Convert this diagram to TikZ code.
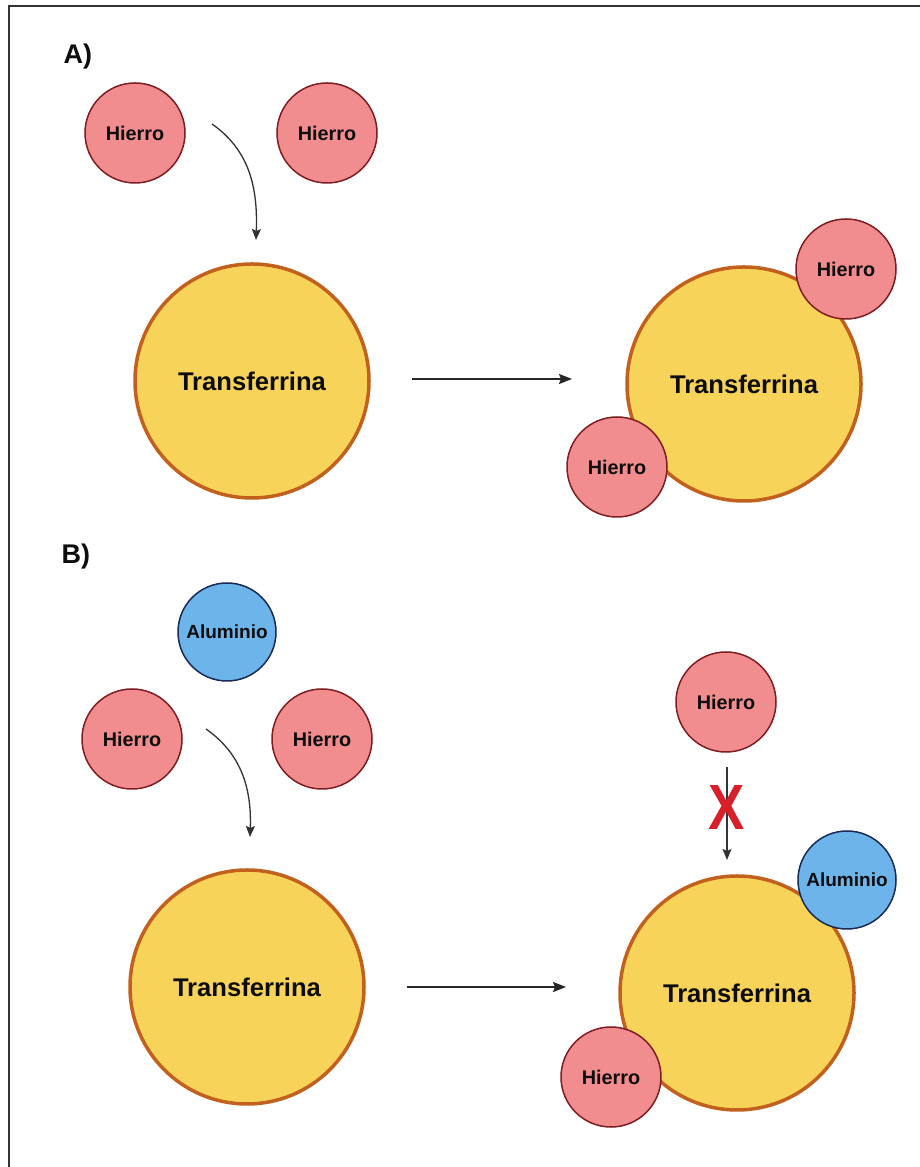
\documentclass[tikz,border=0pt]{standalone}
\definecolor{tfyellow}{HTML}{F8D35A}
\definecolor{tfborder}{HTML}{C2611D}
\definecolor{fered}{HTML}{F28D8F}
\definecolor{feborder}{HTML}{7E1D22}
\definecolor{alblue}{HTML}{6DB4EA}
\definecolor{alborder}{HTML}{182B55}
\definecolor{xred}{HTML}{D81F2A}
\usepackage{fontspec}
\setmainfont{Liberation Sans}
\usepackage{tikz}
\usetikzlibrary{arrows.meta, positioning}

\begin{document}
\begin{tikzpicture}[x=1pt, y=1pt,
    txt/.style={text=black!95},
    hierro/.style={circle, draw=feborder, fill=fered, line width=1.5pt,
      minimum size=100pt, inner sep=0pt, txt,
      font=\bfseries\fontsize{19.8}{20}\selectfont},
    alu/.style={circle, draw=alborder, fill=alblue, line width=1.5pt,
      minimum size=98pt, inner sep=0pt, txt,
      font=\bfseries\fontsize{19}{20}\selectfont},
    transf/.style={circle, draw=tfborder, fill=tfyellow, line width=3.5pt,
      minimum size=234pt, inner sep=0pt, txt,
      font=\bfseries\fontsize{25.6}{26}\selectfont},
    panel/.style={anchor=west, txt, font=\bfseries\fontsize{27}{28}\selectfont},
    curved/.style={-{Stealth[length=11pt, width=9pt, inset=2pt]}, line width=1.3pt, black!80},
    straight/.style={-{Stealth[length=13pt, width=10pt, inset=2pt]}, line width=1.9pt, black!85}]
  \useasboundingbox (0, 0) rectangle (920, 1167);
  \fill[white] (0, 0) rectangle (920, 1167);
  % Frame (top and left edges)
  \draw[black!80, line width=2pt] (9, 0) -- (9, 1161) -- (920, 1161);

  % ---- A) ----
  \node[panel] (labA) at (60, 1110) {A)};
  \node[hierro] (hA1) at (135, 1034) {Hierro};
  \node[hierro] (hA2) at (327, 1034) {Hierro};
  \node[transf] (tfA1) at (252, 786) {Transferrina};
  \node[transf] (tfA2) at (744, 783) {Transferrina};
  \node[hierro] (hA3) at (846, 898) {Hierro};
  \node[hierro] (hA4) at (617, 700) {Hierro};
  % arrows A
  \coordinate (cA1) at (212, 1043);
  \coordinate (cA2) at (256, 927);
  \draw[curved] (cA1) to[out=-35, in=88] (cA2);
  \coordinate (sA1) at (412, 788);
  \coordinate (sA2) at (572, 788);
  \draw[straight] (sA1) -- (sA2);

  % ---- B) ----
  \node[panel] (labB) at (58, 610) {B)};
  \node[alu] (alB1) at (227, 535) {Aluminio};
  \node[hierro] (hB1) at (132, 428) {Hierro};
  \node[hierro] (hB2) at (322, 428) {Hierro};
  \node[transf] (tfB1) at (247, 180) {Transferrina};
  \node[transf] (tfB2) at (737, 174) {Transferrina};
  \node[hierro] (hB4) at (611, 90) {Hierro};
  \node[alu] (alB2) at (847, 287) {Aluminio};
  \node[hierro] (hB3) at (726, 465) {Hierro};
  % arrows B
  \coordinate (cB1) at (206, 438);
  \coordinate (cB2) at (250, 330);
  \draw[curved] (cB1) to[out=-35, in=88] (cB2);
  \coordinate (sB1) at (407, 180);
  \coordinate (sB2) at (566, 180);
  \draw[straight] (sB1) -- (sB2);
  \coordinate (dB1) at (727, 400);
  \coordinate (dB2) at (727, 307);
  \draw[curved, line width=1.6pt] (dB1) -- (dB2);
  \node[text=xred, font=\bfseries\fontsize{64}{64}\selectfont, xscale=0.85]
    (noB) at (727, 360) {X};
\end{tikzpicture}
\end{document}
